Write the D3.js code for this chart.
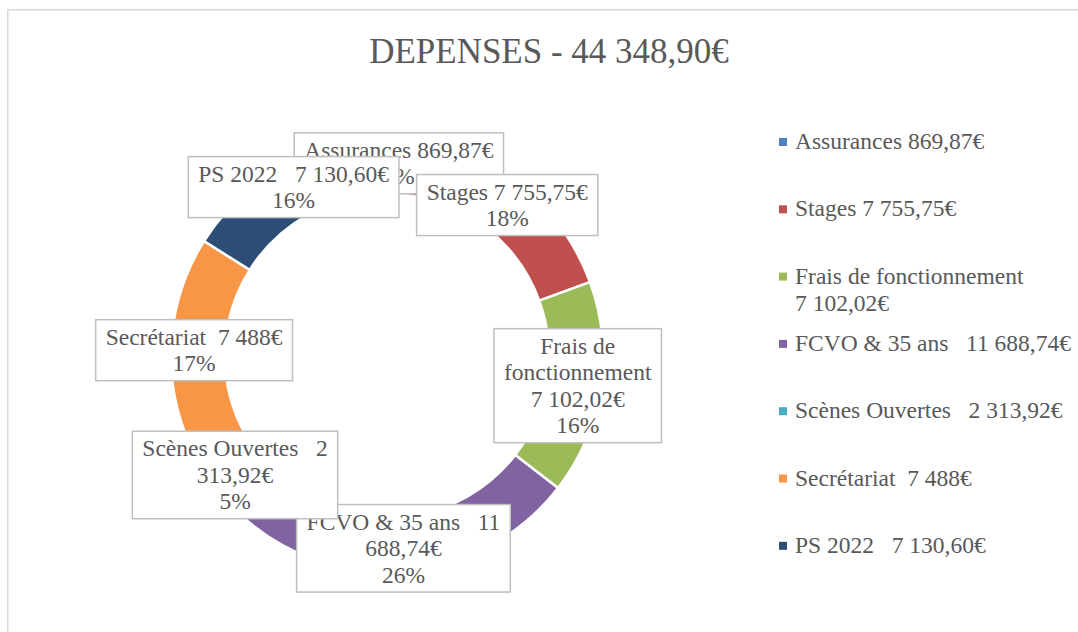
<!DOCTYPE html>
<html>
<head>
<meta charset="utf-8">
<script src="https://cdn.jsdelivr.net/npm/d3@7"></script>
<style>
  body { margin: 0; background: #fff; }
  text { font-family: "Liberation Serif", "Times New Roman", serif; fill: #595959; white-space: pre; }
</style>
</head>
<body>
<div id="chart"></div>
<script>
var width = 1078;
var height = 632;

// data
var categories = ["Assurances 869,87€", "Stages 7 755,75€", "Frais de fonctionnement 7 102,02€",
  "FCVO & 35 ans   11 688,74€", "Scènes Ouvertes   2 313,92€", "Secrétariat  7 488€", "PS 2022   7 130,60€"];
var values = [869.87, 7755.75, 7102.02, 11688.74, 2313.92, 7488, 7130.60];
var colors = ["#4F81BD", "#C0504D", "#9BBB59", "#8064A2", "#4BACC6", "#F79646", "#2C4D75"];
var labelLines = [
  ["Assurances 869,87€"],
  ["Stages 7 755,75€"],
  ["Frais de", "fonctionnement", "7 102,02€"],
  ["FCVO & 35 ans   11", "688,74€"],
  ["Scènes Ouvertes   2", "313,92€"],
  ["Secrétariat  7 488€"],
  ["PS 2022   7 130,60€"]
];
var legendLines = [
  ["Assurances 869,87€"],
  ["Stages 7 755,75€"],
  ["Frais de fonctionnement", "7 102,02€"],
  ["FCVO & 35 ans   11 688,74€"],
  ["Scènes Ouvertes   2 313,92€"],
  ["Secrétariat  7 488€"],
  ["PS 2022   7 130,60€"]
];
var title = "DEPENSES - 44 348,90€";

var total = d3.sum(values);

// rounded percentages that add up to 100 (largest remainder)
var raw = values.map(function(v) { return v / total * 100; });
var pct = raw.map(Math.floor);
var left = 100 - d3.sum(pct);
d3.range(values.length)
  .sort(function(a, b) { return (raw[b] - pct[b]) - (raw[a] - pct[a]); })
  .slice(0, left)
  .forEach(function(i) { pct[i] += 1; });

var svg = d3.select("#chart")
    .append("svg")
    .attr("width", width)
    .attr("height", height);

// chart area border
svg.append("rect")
    .attr("x", 7.75)
    .attr("y", 9.75)
    .attr("width", width + 10)
    .attr("height", height + 10)
    .attr("fill", "none")
    .attr("stroke", "#d9d9d9")
    .attr("stroke-width", 1.5);

svg.append("text")
    .attr("x", 549)
    .attr("y", 63)
    .attr("text-anchor", "middle")
    .attr("font-size", "35px")
    .text(title);

var cx = 387, cy = 356, outerR = 216, innerR = outerR * 0.75;

var pie = d3.pie().sort(null).value(function(d) { return d; });
var arcs = pie(values);

var arc = d3.arc().innerRadius(innerR).outerRadius(outerR);
var labelArc = d3.arc().innerRadius(193).outerRadius(193);

var g = svg.append("g").attr("transform", "translate(" + cx + "," + cy + ")");

g.selectAll("path")
    .data(arcs)
    .enter().append("path")
      .attr("d", arc)
      .attr("fill", function(d, i) { return colors[i]; })
      .attr("stroke", "#fff")
      .attr("stroke-width", 2.5);

// data labels
var lineH = 26.5, fs = 23.5;
var labels = g.selectAll("g.label")
    .data(arcs)
    .enter().append("g")
      .attr("class", "label")
      .attr("transform", function(d) { var c = labelArc.centroid(d); return "translate(" + c[0] + "," + c[1] + ")"; });

labels.each(function(d, i) {
  var lab = d3.select(this);
  var lines = labelLines[i].concat([pct[i] + "%"]);
  var box = lab.append("rect");
  var n = lines.length;
  var txt = lab.selectAll("text")
      .data(lines)
      .enter().append("text")
        .attr("text-anchor", "middle")
        .attr("font-size", fs + "px")
        .attr("y", function(l, j) { return (j - (n - 1) / 2) * lineH; })
        .attr("dy", "0.33em")
        .text(function(l) { return l; });
  var w = 0;
  txt.each(function() { w = Math.max(w, this.getComputedTextLength()); });
  var bw = w + 20, bh = n * lineH + 8;
  box.attr("x", -bw / 2)
     .attr("y", -bh / 2)
     .attr("width", bw)
     .attr("height", bh)
     .attr("fill", "#fff")
     .attr("stroke", "#bfbfbf")
     .attr("stroke-width", 1.5);
});

// legend
var legend = svg.append("g")
  .selectAll("g")
  .data(legendLines)
  .enter().append("g")
    .attr("transform", function(d, i) { return "translate(779," + (149 + i * 67.3) + ")"; });

legend.append("rect")
    .attr("x", 0)
    .attr("y", -11)
    .attr("width", 8)
    .attr("height", 8)
    .attr("fill", function(d, i) { return colors[i]; });

legend.selectAll("text")
    .data(function(d) { return d; })
    .enter().append("text")
      .attr("x", 16)
      .attr("y", function(d, j) { return j * 27; })
      .attr("font-size", fs + "px")
      .text(function(d) { return d; });
</script>
</body>
</html>
